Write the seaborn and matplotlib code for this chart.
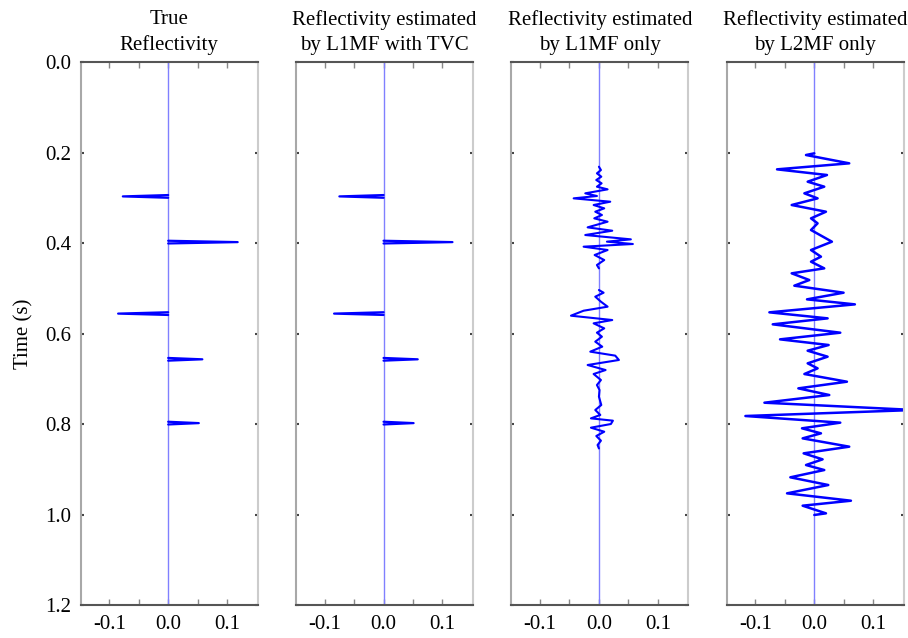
import numpy as np
import pandas as pd
import matplotlib
matplotlib.use("Agg")
import matplotlib.pyplot as plt
import seaborn as sns

sns.set_style("white")
plt.rcParams["font.family"] = ["Liberation Serif", "DejaVu Serif"]
plt.rcParams["text.color"] = "black"
plt.rcParams["axes.labelcolor"] = "black"

# ---------------- data ----------------
titles = ["True\nReflectivity",
          "Reflectivity estimated\nby L1MF with TVC",
          "Reflectivity estimated\nby L1MF only",
          "Reflectivity estimated\nby L2MF only"]

spike_times = [0.297, 0.398, 0.556, 0.657, 0.798]
true_amps = [-0.077, 0.118, -0.085, 0.058, 0.052]
tvc_amps = [-0.075, 0.117, -0.084, 0.058, 0.051]

l1_times = [0.2314, 0.2387, 0.2460, 0.2534, 0.2608, 0.2681, 0.2755, 0.2814, 0.2902, 0.2961,
            0.3013, 0.3087, 0.3160, 0.3234, 0.3308, 0.3381, 0.3455, 0.3529, 0.3654, 0.3728,
            0.3823, 0.3919, 0.3970, 0.4022, 0.4081, 0.4155, 0.4265, 0.4376, 0.4486, 0.4560,
            0.5039, 0.5098, 0.5186, 0.5297, 0.5407, 0.5496, 0.5606, 0.5702, 0.5775, 0.5886,
            0.5981, 0.6070, 0.6180, 0.6291, 0.6401, 0.6489, 0.6585, 0.6696, 0.6807, 0.6895,
            0.7028, 0.7138, 0.7249, 0.7396, 0.7580, 0.7690, 0.7800, 0.7875, 0.7926, 0.8000,
            0.8081, 0.8170, 0.8265, 0.8368, 0.8464, 0.8540]
l1_amps = [0.0, 0.0034, -0.0034, 0.0040, -0.0045, 0.0045, -0.0034, 0.0147, -0.0232, -0.0034,
           -0.0429, 0.0192, -0.0090, 0.0090, -0.0062, 0.0051, -0.0079, 0.0147, -0.0192, 0.0226,
           -0.0232, 0.0542, 0.0136, 0.0576, -0.0260, 0.0147, -0.0073, 0.0090, -0.0034, 0.0,
           0.0, 0.0079, -0.0062, 0.0034, 0.0147, -0.0260, -0.0475, 0.0226, -0.0090, 0.0090,
           -0.0034, 0.0051, -0.0062, 0.0056, -0.0147, 0.0277, 0.0339, -0.0192, 0.0113, -0.0090,
           0.0034, -0.0034, 0.0010, 0.0, 0.0040, -0.0062, 0.0023, -0.0136, 0.0237, 0.0203,
           -0.0136, 0.0090, -0.0045, 0.0034, -0.0023, 0.0]
l1_group = [1] * 30 + [2] * 36

l2_times = [0.2018, 0.2055, 0.2239, 0.2372, 0.2497, 0.2645, 0.2755, 0.2902, 0.3013, 0.3160,
            0.3308, 0.3455, 0.3565, 0.3713, 0.3971, 0.4155, 0.4302, 0.4413, 0.4560, 0.4670,
            0.4818, 0.4943, 0.5098, 0.5245, 0.5356, 0.5532, 0.5665, 0.5797, 0.5982, 0.6129,
            0.6254, 0.6380, 0.6512, 0.6659, 0.6770, 0.6895, 0.7065, 0.7212, 0.7359, 0.7529,
            0.7690, 0.7823, 0.7970, 0.8095, 0.8206, 0.8317, 0.8501, 0.8648, 0.8781, 0.8906,
            0.9017, 0.9178, 0.9348, 0.9532, 0.9695, 0.9805, 0.9974, 1.0010]
l2_amps = [0.0, -0.0141, 0.0593, -0.0633, 0.0215, -0.0113, 0.0169, -0.0169, 0.0056, -0.0384,
           0.0198, -0.0056, 0.0056, -0.0056, 0.0299, -0.0056, 0.0113, -0.0056, 0.0169, -0.0384,
           -0.0085, -0.0339, 0.0497, -0.0124, 0.0689, -0.0763, 0.0226, -0.0706, 0.0441, -0.0582,
           0.0243, -0.0113, 0.0226, -0.0113, 0.0056, -0.0169, 0.0554, -0.0271, 0.0254, -0.0847,
           0.1700, -0.1170, 0.0441, -0.0209, 0.0113, -0.0198, 0.0593, -0.0181, 0.0141, -0.0141,
           0.0169, -0.0407, 0.0237, -0.0463, 0.0622, -0.0198, 0.0198, 0.0]

xticks = [-0.1, -0.05, 0.0, 0.05, 0.1]
xticklabels = ["-0.1", "", "0.0", "", "0.1"]
yticks = [0.0, 0.2, 0.4, 0.6, 0.8, 1.0, 1.2]
yticklabels = ["0.0", "0.2", "0.4", "0.6", "0.8", "1.0", "1.2"]
t_range = [0.0, 1.2]


def spike_frame(times, amps, half=0.003):
    rows = []
    for k, (t, a) in enumerate(zip(times, amps)):
        rows += [(t - half, 0.0, k), (t, a, k), (t + half, 0.0, k)]
    return pd.DataFrame(rows, columns=["time", "amp", "unit"])


frames = [
    spike_frame(spike_times, true_amps),
    spike_frame(spike_times, tvc_amps),
    pd.DataFrame({"time": l1_times, "amp": l1_amps, "unit": l1_group}),
    pd.DataFrame({"time": l2_times, "amp": l2_amps, "unit": [1] * len(l2_times)}),
]
widths = [1.6, 1.6, 1.5, 1.8]

fig = plt.figure(figsize=(9.08, 6.38), dpi=100)
lefts = [0.0889, 0.3261, 0.5633, 0.8005]
zero_df = pd.DataFrame({"time": t_range, "amp": [0.0, 0.0]})

for i in range(4):
    ax = fig.add_axes([lefts[i], 0.0517, 0.1949, 0.8511])
    sns.lineplot(data=zero_df, x="amp", y="time", sort=False, estimator=None,
                 color="#8080ff", linewidth=1.0, ax=ax)
    sns.lineplot(data=frames[i], x="amp", y="time", units="unit", sort=False,
                 estimator=None, color="#0000ff", linewidth=widths[i], ax=ax)
    ax.set_xlim(-0.1485, 0.152)
    ax.set_ylim(1.2, 0.0)
    ax.set_xticks(xticks)
    ax.set_xticklabels(xticklabels)
    ax.set_yticks(yticks)
    if i == 0:
        ax.set_yticklabels(yticklabels)
        ax.set_ylabel("Time (s)", fontsize=15, labelpad=8, color="black")
    else:
        ax.set_yticklabels([])
        ax.set_ylabel("")
    ax.set_xlabel("")
    ax.set_title(titles[i], fontsize=15, pad=9, linespacing=1.4, color="black")
    ax.tick_params(axis="x", which="both", direction="in", top=True, bottom=True,
                   length=4, width=1.0, color="#888888", labelsize=15, pad=7,
                   labelcolor="black")
    ax.tick_params(axis="y", direction="in", left=True, right=True,
                   length=2, width=1.5, color="#444444", labelsize=15, pad=7,
                   labelcolor="black")
    for side, col in [("top", "#555555"), ("bottom", "#555555"),
                      ("left", "#a8a8a8"), ("right", "#cccccc")]:
        ax.spines[side].set_visible(True)
        ax.spines[side].set_color(col)
        ax.spines[side].set_linewidth(1.5)

fig.savefig("out.png", dpi=100)
